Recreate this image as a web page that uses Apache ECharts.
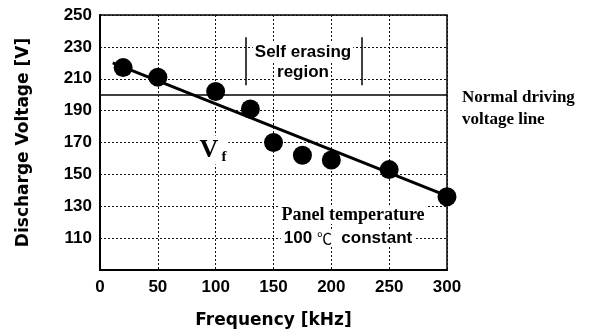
<!DOCTYPE html>
<html lang="en">
<head>
  <meta charset="UTF-8">
  <title>Discharge voltage vs frequency</title>
  <script src="https://cdn.jsdelivr.net/npm/echarts@6/dist/echarts.min.js"></script>
</head>
<body style="margin:0;background:#fff">
  <div id="container" style="width:592px;height:334px;"></div>
  <script>
    // measured points (kHz, V)
    var freq = [20, 50, 100, 130, 150, 175, 200, 250, 300];
    var volt = [217, 211, 202, 191, 170, 162, 159, 153, 136];
    // straight fit drawn through the points
    var fitX = [11, 300];
    var fitY = [220, 136.5];
    // normal driving voltage and the "self erasing" bracket
    var normalVolt = 200;
    var bracketX = [126, 226];
    var bracketY = [206, 236];
    var xTicks = [0, 50, 100, 150, 200, 250, 300];
    var yTicks = [110, 130, 150, 170, 190, 210, 230, 250];

    var points = freq.map(function (f, i) { return [f, volt[i]]; });
    var fit = fitX.map(function (f, i) { return [f, fitY[i]]; });

    var myChart = echarts.init(document.getElementById('container'));
    var grid = { left: 100, top: 15, width: 347, height: 257 };
    var dotted = { color: '#111', width: 1, type: [2, 2] };

    myChart.setOption({
      backgroundColor: '#fff',
      animation: false,
      grid: Object.assign({ show: true, borderColor: '#000', borderWidth: 1.5 }, grid),
      xAxis: {
        type: 'value', min: 0, max: 300, interval: 50,
        name: 'Frequency [kHz]', nameLocation: 'middle', nameGap: 42,
        nameTextStyle: { fontFamily: 'DejaVu Sans', fontWeight: 'bold', fontSize: 17, color: '#000' },
        axisLine: { lineStyle: { color: '#000', width: 2 } },
        axisTick: { show: false },
        axisLabel: {
          margin: 9, color: '#000', fontFamily: 'Liberation Sans', fontWeight: 'bold', fontSize: 17,
          formatter: function (v) { return xTicks.indexOf(v) >= 0 ? String(v) : ''; }
        },
        splitLine: { show: true, lineStyle: dotted }
      },
      yAxis: {
        type: 'value', min: 90, max: 250, interval: 20,
        name: 'Discharge Voltage [V]', nameLocation: 'middle', nameGap: 68,
        nameTextStyle: { fontFamily: 'DejaVu Sans', fontWeight: 'bold', fontSize: 17, color: '#000' },
        axisLine: { show: true, lineStyle: { color: '#000', width: 2 } },
        axisTick: { show: false },
        axisLabel: {
          margin: 8, color: '#000', fontFamily: 'Liberation Sans', fontWeight: 'bold', fontSize: 17,
          formatter: function (v) { return yTicks.indexOf(v) >= 0 ? String(v) : ''; }
        },
        splitLine: { show: true, lineStyle: dotted }
      },
      series: [
        {
          type: 'line', data: fit, symbol: 'none', z: 3,
          lineStyle: { color: '#000', width: 3 },
          markLine: {
            silent: true, symbol: 'none', label: { show: false },
            lineStyle: { color: '#000', width: 1.5, type: 'solid' },
            data: [
              { yAxis: normalVolt },
              [{ coord: [bracketX[0], bracketY[0]] }, { coord: [bracketX[0], bracketY[1]] }],
              [{ coord: [bracketX[1], bracketY[0]] }, { coord: [bracketX[1], bracketY[1]] }]
            ]
          }
        },
        {
          type: 'scatter', data: points, symbol: 'circle', symbolSize: 19, z: 4,
          itemStyle: { color: '#000', opacity: 1 }
        }
      ],
      graphic: [
        { type: 'text', x: 303, y: 52, z: 10, style: {
          text: 'Self erasing', align: 'center', verticalAlign: 'middle',
          font: 'bold 17px "Liberation Sans"', fill: '#000', backgroundColor: '#fff', padding: [1, 2] } },
        { type: 'text', x: 303, y: 72, z: 10, style: {
          text: 'region', align: 'center', verticalAlign: 'middle',
          font: 'bold 17px "Liberation Sans"', fill: '#000', backgroundColor: '#fff', padding: [1, 2] } },
        { type: 'text', x: 462, y: 98, style: {
          text: 'Normal driving', verticalAlign: 'middle',
          font: 'bold 17px "Liberation Serif"', fill: '#000' } },
        { type: 'text', x: 462, y: 120, style: {
          text: 'voltage line', verticalAlign: 'middle',
          font: 'bold 17px "Liberation Serif"', fill: '#000' } },
        { type: 'text', x: 353, y: 215, z: 10, style: {
          text: 'Panel temperature', align: 'center', verticalAlign: 'middle',
          font: 'bold 18px "Liberation Serif"', fill: '#000', backgroundColor: '#fff', padding: [0, 2] } },
        { type: 'text', x: 348, y: 238, z: 10, style: {
          text: '100 {c|\u2103}  constant', align: 'center', verticalAlign: 'middle',
          font: 'bold 17px "Liberation Sans"', fill: '#000', backgroundColor: '#fff', padding: [0, 3],
          rich: { c: { font: '15px "Noto Sans CJK SC"', fill: '#000' } } } },
        { type: 'text', x: 213, y: 150, z: 10, style: {
          text: '{v|V}{f|f}', align: 'center', verticalAlign: 'middle',
          backgroundColor: '#fff', padding: [0, 2],
          rich: {
            v: { font: 'bold 26px "Liberation Serif"', fill: '#000' },
            f: { font: 'bold 15px "Liberation Serif"', fill: '#000', padding: [14, 0, 0, 3] }
          } } }
      ]
    });
  </script>
</body>
</html>
